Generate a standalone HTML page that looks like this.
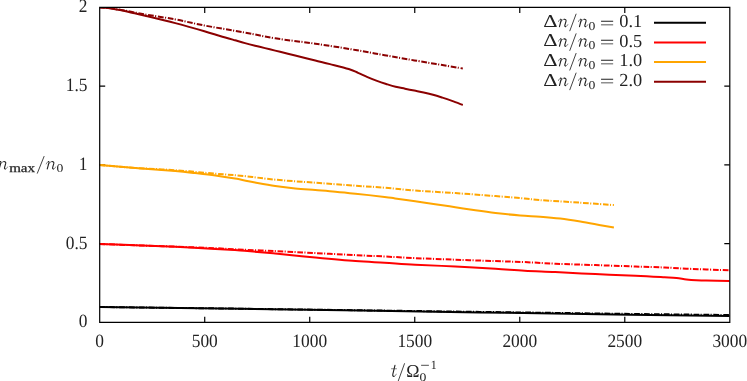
<!DOCTYPE html>
<html><head><meta charset="utf-8"><title>plot</title>
<style>
html,body{margin:0;padding:0;background:#fff;}
svg{display:block;will-change:transform;}
text{font-family:"Liberation Serif",serif;fill:#222;text-rendering:geometricPrecision;}
.i{font-style:italic;}
</style></head><body>
<svg width="747" height="381" viewBox="0 0 747 381">
<rect width="747" height="381" fill="#fff"/>
<path d="M204.72,322.3v-5.5M204.72,7.4v5.5M309.73,322.3v-5.5M309.73,7.4v5.5M414.75,322.3v-5.5M414.75,7.4v5.5M519.77,322.3v-5.5M519.77,7.4v5.5M624.78,322.3v-5.5M624.78,7.4v5.5M99.7,243.57h5.5M729.8,243.57h-5.5M99.7,164.85h5.5M729.8,164.85h-5.5M99.7,86.12h5.5M729.8,86.12h-5.5" fill="none" stroke="#000" stroke-width="1.2" stroke-linejoin="miter"/>
<clipPath id="pa"><rect x="99.7" y="7.4" width="630.0999999999999" height="314.90000000000003"/></clipPath>
<g clip-path="url(#pa)">
<path d="M99.50,306.99C122.92,307.29 176.58,307.90 240.00,308.80C303.42,309.70 415.00,311.42 480.00,312.40C545.00,313.38 588.42,314.10 630.00,314.70C671.58,315.30 712.92,315.78 729.50,316.00" fill="none" stroke="#000" stroke-width="2.0" stroke-linejoin="round"/>
<path d="M99.50,306.99C122.92,307.27 176.58,307.88 240.00,308.70C303.42,309.52 415.00,311.03 480.00,311.90C545.00,312.77 588.42,313.38 630.00,313.90C671.58,314.42 712.92,314.82 729.50,315.00" fill="none" stroke="#000" stroke-width="2.0" stroke-linejoin="round" stroke-dasharray="5.7 1.4 1.1 1.7"/>
<path d="M99.50,243.98C105.45,244.20 122.57,244.83 135.20,245.30C147.83,245.77 161.92,246.18 175.30,246.80C188.68,247.42 205.55,248.45 215.50,249.00C225.45,249.55 230.15,249.80 235.00,250.10C239.85,250.40 237.90,250.23 244.60,250.80C251.30,251.37 263.42,252.38 275.20,253.50C286.98,254.62 301.92,256.23 315.30,257.50C328.68,258.77 343.95,260.22 355.50,261.10C367.05,261.98 374.65,262.20 384.60,262.80C394.55,263.40 403.42,264.08 415.20,264.70C426.98,265.32 441.92,265.82 455.30,266.50C468.68,267.18 483.95,268.08 495.50,268.80C507.05,269.52 514.65,270.25 524.60,270.80C534.55,271.35 543.42,271.55 555.20,272.10C566.98,272.65 581.92,273.50 595.30,274.10C608.68,274.70 623.95,275.17 635.50,275.70C647.05,276.23 657.77,276.90 664.60,277.30C671.43,277.70 672.87,277.73 676.50,278.10C680.13,278.47 683.12,279.13 686.40,279.50C689.68,279.87 692.93,280.13 696.20,280.30C699.47,280.47 700.45,280.40 706.00,280.50C711.55,280.60 725.58,280.83 729.50,280.90" fill="none" stroke="#ff0000" stroke-width="2.0" stroke-linejoin="round"/>
<path d="M99.50,243.98C105.45,244.20 122.57,244.86 135.20,245.30C147.83,245.75 161.92,246.17 175.30,246.65C188.68,247.13 205.55,247.76 215.50,248.20C225.45,248.64 225.05,248.82 235.00,249.30C244.95,249.78 261.82,250.47 275.20,251.10C288.58,251.73 301.92,252.43 315.30,253.10C328.68,253.77 343.95,254.53 355.50,255.10C367.05,255.67 374.65,256.00 384.60,256.50C394.55,257.00 403.42,257.57 415.20,258.10C426.98,258.63 441.92,259.20 455.30,259.70C468.68,260.20 483.95,260.70 495.50,261.10C507.05,261.50 514.65,261.67 524.60,262.10C534.55,262.53 543.42,263.20 555.20,263.70C566.98,264.20 581.92,264.63 595.30,265.10C608.68,265.57 623.95,266.10 635.50,266.50C647.05,266.90 656.12,267.13 664.60,267.50C673.08,267.87 675.58,268.23 686.40,268.70C697.22,269.17 722.32,270.03 729.50,270.30" fill="none" stroke="#ff0000" stroke-width="2.0" stroke-linejoin="round" stroke-dasharray="5.7 1.4 1.1 1.7"/>
<path d="M99.50,165.05C105.45,165.53 122.57,166.89 135.20,167.90C147.83,168.91 165.33,170.23 175.30,171.10C185.27,171.97 188.30,172.37 195.00,173.10C201.70,173.83 208.83,174.58 215.50,175.50C222.17,176.42 228.40,177.43 235.00,178.60C241.60,179.77 248.40,181.27 255.10,182.50C261.80,183.73 268.52,185.00 275.20,186.00C281.88,187.00 288.52,187.82 295.20,188.50C301.88,189.18 308.60,189.57 315.30,190.10C322.00,190.63 328.70,191.10 335.40,191.70C342.10,192.30 347.30,192.83 355.50,193.70C363.70,194.57 378.00,196.12 384.60,196.90C391.20,197.68 390.00,197.67 395.10,198.40C400.20,199.13 408.52,200.33 415.20,201.30C421.88,202.27 428.52,203.22 435.20,204.20C441.88,205.18 448.60,206.18 455.30,207.20C462.00,208.22 468.70,209.33 475.40,210.30C482.10,211.27 488.05,212.13 495.50,213.00C502.95,213.87 512.65,214.88 520.10,215.50C527.55,216.12 533.52,216.18 540.20,216.70C546.88,217.22 553.52,217.78 560.20,218.60C566.88,219.42 573.60,220.50 580.30,221.60C587.00,222.70 594.80,224.20 600.40,225.20C606.00,226.20 611.65,227.20 613.90,227.60" fill="none" stroke="#ffa500" stroke-width="2.0" stroke-linejoin="round"/>
<path d="M99.50,165.05C105.45,165.53 122.57,167.04 135.20,167.90C147.83,168.76 161.92,169.23 175.30,170.20C188.68,171.17 203.95,172.72 215.50,173.70C227.05,174.68 234.65,175.10 244.60,176.10C254.55,177.10 263.42,178.60 275.20,179.70C286.98,180.80 301.92,181.70 315.30,182.70C328.68,183.70 343.95,184.87 355.50,185.70C367.05,186.53 374.65,186.90 384.60,187.70C394.55,188.50 403.42,189.60 415.20,190.50C426.98,191.40 441.92,192.17 455.30,193.10C468.68,194.03 483.95,195.20 495.50,196.10C507.05,197.00 517.15,197.83 524.60,198.50C532.05,199.17 530.92,199.40 540.20,200.10C549.48,200.80 568.02,201.87 580.30,202.70C592.58,203.53 608.30,204.70 613.90,205.10" fill="none" stroke="#ffa500" stroke-width="2.0" stroke-linejoin="round" stroke-dasharray="5.7 1.4 1.1 1.7"/>
<path d="M99.30,7.30C100.75,7.42 104.55,7.53 108.00,8.00C111.45,8.47 116.00,9.32 120.00,10.10C124.00,10.88 127.80,11.77 132.00,12.70C136.20,13.63 137.98,13.97 145.20,15.70C152.42,17.43 165.43,20.52 175.30,23.10C185.17,25.68 196.95,29.05 204.40,31.20C211.85,33.35 214.90,34.48 220.00,36.00C225.10,37.52 230.83,39.12 235.00,40.30C239.17,41.48 241.65,42.20 245.00,43.10C248.35,44.00 251.77,44.87 255.10,45.70C258.43,46.53 261.65,47.28 265.00,48.10C268.35,48.92 271.87,49.78 275.20,50.60C278.53,51.42 281.67,52.18 285.00,53.00C288.33,53.82 290.15,54.25 295.20,55.50C300.25,56.75 309.50,59.07 315.30,60.50C321.10,61.93 324.43,62.68 330.00,64.10C335.57,65.52 344.03,67.55 348.70,69.00C353.37,70.45 354.87,71.45 358.00,72.80C361.13,74.15 364.33,75.75 367.50,77.10C370.67,78.45 373.88,79.75 377.00,80.90C380.12,82.05 383.10,83.02 386.20,84.00C389.30,84.98 392.47,86.02 395.60,86.80C398.73,87.58 401.88,88.07 405.00,88.70C408.12,89.33 411.18,89.97 414.30,90.60C417.42,91.23 420.58,91.82 423.70,92.50C426.82,93.18 429.88,93.85 433.00,94.70C436.12,95.55 439.23,96.57 442.40,97.60C445.57,98.63 448.60,99.67 452.00,100.90C455.40,102.13 461.00,104.32 462.80,105.00" fill="none" stroke="#8b0000" stroke-width="2.0" stroke-linejoin="round"/>
<path d="M99.30,7.30C100.75,7.42 103.72,7.45 108.00,8.00C112.28,8.55 118.83,9.53 125.00,10.60C131.17,11.67 136.62,12.93 145.00,14.40C153.38,15.87 165.40,17.55 175.30,19.40C185.20,21.25 192.85,23.32 204.40,25.50C215.95,27.68 232.80,30.37 244.60,32.50C256.40,34.63 263.42,36.43 275.20,38.30C286.98,40.17 301.92,41.75 315.30,43.70C328.68,45.65 343.95,48.08 355.50,50.00C367.05,51.92 374.78,53.47 384.60,55.20C394.42,56.93 401.37,58.18 414.40,60.40C427.43,62.62 454.73,67.15 462.80,68.50" fill="none" stroke="#8b0000" stroke-width="2.0" stroke-linejoin="round" stroke-dasharray="5.7 1.4 1.1 1.7"/>
</g>
<path d="M99.7,7.4H729.8V322.3H99.7Z" fill="none" stroke="#000" stroke-width="1.2" stroke-linejoin="miter"/>
<text transform="translate(99.70,346.90) scale(0.965,1.045)" font-size="18" text-anchor="middle">0</text>
<text transform="translate(204.72,346.90) scale(0.965,1.045)" font-size="18" text-anchor="middle">500</text>
<text transform="translate(309.73,346.90) scale(0.965,1.045)" font-size="18" text-anchor="middle">1000</text>
<text transform="translate(414.75,346.90) scale(0.965,1.045)" font-size="18" text-anchor="middle">1500</text>
<text transform="translate(519.77,346.90) scale(0.965,1.045)" font-size="18" text-anchor="middle">2000</text>
<text transform="translate(624.78,346.90) scale(0.965,1.045)" font-size="18" text-anchor="middle">2500</text>
<text transform="translate(729.80,346.90) scale(0.965,1.045)" font-size="18" text-anchor="middle">3000</text>
<text transform="translate(87.50,327.30) scale(0.965,1.045)" font-size="18" text-anchor="end">0</text>
<text transform="translate(87.50,248.57) scale(0.965,1.045)" font-size="18" text-anchor="end">0.5</text>
<text transform="translate(87.50,169.85) scale(0.965,1.045)" font-size="18" text-anchor="end">1</text>
<text transform="translate(87.50,91.12) scale(0.965,1.045)" font-size="18" text-anchor="end">1.5</text>
<text transform="translate(87.50,12.40) scale(0.965,1.045)" font-size="18" text-anchor="end">2</text>
<g><text transform="translate(543.15,26.75) scale(1.234,1.001)" font-size="18.0">&#916;</text><path d="M558.45,21.58 C559.01,20.06 559.83,19.20 560.65,19.20" fill="none" stroke="#222" stroke-width="0.55" stroke-linecap="round"/><path d="M560.29,22.39 C561.36,20.37 562.89,19.20 564.22,19.20" fill="none" stroke="#222" stroke-width="0.55" stroke-linecap="round"/><path d="M565.55,26.65 C566.47,26.65 567.28,25.84 567.84,24.62" fill="none" stroke="#222" stroke-width="0.55" stroke-linecap="round"/><path d="M560.65,19.20 C561.26,19.20 561.36,19.66 561.21,20.27 L559.47,26.60" fill="none" stroke="#222" stroke-width="1.12" stroke-linecap="round" stroke-linejoin="round"/><path d="M564.22,19.20 C565.75,19.20 566.26,20.06 565.96,21.28 L564.88,25.03 C564.58,26.14 564.94,26.65 565.55,26.65" fill="none" stroke="#222" stroke-width="1.12" stroke-linecap="round" stroke-linejoin="round"/><line x1="569.70" y1="31.15" x2="576.20" y2="13.75" stroke="#222" stroke-width="0.85"/><path d="M578.45,21.58 C579.01,20.06 579.83,19.20 580.65,19.20" fill="none" stroke="#222" stroke-width="0.55" stroke-linecap="round"/><path d="M580.29,22.39 C581.36,20.37 582.89,19.20 584.22,19.20" fill="none" stroke="#222" stroke-width="0.55" stroke-linecap="round"/><path d="M585.55,26.65 C586.47,26.65 587.28,25.84 587.84,24.62" fill="none" stroke="#222" stroke-width="0.55" stroke-linecap="round"/><path d="M580.65,19.20 C581.26,19.20 581.36,19.66 581.21,20.27 L579.47,26.60" fill="none" stroke="#222" stroke-width="1.12" stroke-linecap="round" stroke-linejoin="round"/><path d="M584.22,19.20 C585.75,19.20 586.26,20.06 585.96,21.28 L584.88,25.03 C584.58,26.14 584.94,26.65 585.55,26.65" fill="none" stroke="#222" stroke-width="1.12" stroke-linecap="round" stroke-linejoin="round"/><text transform="translate(588.58,29.63) scale(0.760,0.675)" font-size="18.0">0</text><text transform="translate(599.80,28.53) scale(1.445,1.000)" font-size="18.0">=</text><text transform="translate(619.30,27.10) scale(1.02,1.02)" font-size="18" text-anchor="start">0.1</text>
<line x1="654" y1="22.80" x2="706" y2="22.80" stroke="#000" stroke-width="2.0"/></g>
<g><text transform="translate(543.15,46.40) scale(1.234,1.001)" font-size="18.0">&#916;</text><path d="M558.45,41.23 C559.01,39.71 559.83,38.85 560.65,38.85" fill="none" stroke="#222" stroke-width="0.55" stroke-linecap="round"/><path d="M560.29,42.04 C561.36,40.02 562.89,38.85 564.22,38.85" fill="none" stroke="#222" stroke-width="0.55" stroke-linecap="round"/><path d="M565.55,46.30 C566.47,46.30 567.28,45.49 567.84,44.27" fill="none" stroke="#222" stroke-width="0.55" stroke-linecap="round"/><path d="M560.65,38.85 C561.26,38.85 561.36,39.31 561.21,39.92 L559.47,46.25" fill="none" stroke="#222" stroke-width="1.12" stroke-linecap="round" stroke-linejoin="round"/><path d="M564.22,38.85 C565.75,38.85 566.26,39.71 565.96,40.93 L564.88,44.68 C564.58,45.79 564.94,46.30 565.55,46.30" fill="none" stroke="#222" stroke-width="1.12" stroke-linecap="round" stroke-linejoin="round"/><line x1="569.70" y1="50.80" x2="576.20" y2="33.40" stroke="#222" stroke-width="0.85"/><path d="M578.45,41.23 C579.01,39.71 579.83,38.85 580.65,38.85" fill="none" stroke="#222" stroke-width="0.55" stroke-linecap="round"/><path d="M580.29,42.04 C581.36,40.02 582.89,38.85 584.22,38.85" fill="none" stroke="#222" stroke-width="0.55" stroke-linecap="round"/><path d="M585.55,46.30 C586.47,46.30 587.28,45.49 587.84,44.27" fill="none" stroke="#222" stroke-width="0.55" stroke-linecap="round"/><path d="M580.65,38.85 C581.26,38.85 581.36,39.31 581.21,39.92 L579.47,46.25" fill="none" stroke="#222" stroke-width="1.12" stroke-linecap="round" stroke-linejoin="round"/><path d="M584.22,38.85 C585.75,38.85 586.26,39.71 585.96,40.93 L584.88,44.68 C584.58,45.79 584.94,46.30 585.55,46.30" fill="none" stroke="#222" stroke-width="1.12" stroke-linecap="round" stroke-linejoin="round"/><text transform="translate(588.58,49.28) scale(0.760,0.675)" font-size="18.0">0</text><text transform="translate(599.80,48.18) scale(1.445,1.000)" font-size="18.0">=</text><text transform="translate(619.30,46.75) scale(1.02,1.02)" font-size="18" text-anchor="start">0.5</text>
<line x1="654" y1="42.45" x2="706" y2="42.45" stroke="#ff0000" stroke-width="2.0"/></g>
<g><text transform="translate(543.15,66.05) scale(1.234,1.001)" font-size="18.0">&#916;</text><path d="M558.45,60.88 C559.01,59.36 559.83,58.50 560.65,58.50" fill="none" stroke="#222" stroke-width="0.55" stroke-linecap="round"/><path d="M560.29,61.69 C561.36,59.67 562.89,58.50 564.22,58.50" fill="none" stroke="#222" stroke-width="0.55" stroke-linecap="round"/><path d="M565.55,65.95 C566.47,65.95 567.28,65.14 567.84,63.92" fill="none" stroke="#222" stroke-width="0.55" stroke-linecap="round"/><path d="M560.65,58.50 C561.26,58.50 561.36,58.96 561.21,59.57 L559.47,65.90" fill="none" stroke="#222" stroke-width="1.12" stroke-linecap="round" stroke-linejoin="round"/><path d="M564.22,58.50 C565.75,58.50 566.26,59.36 565.96,60.58 L564.88,64.33 C564.58,65.44 564.94,65.95 565.55,65.95" fill="none" stroke="#222" stroke-width="1.12" stroke-linecap="round" stroke-linejoin="round"/><line x1="569.70" y1="70.45" x2="576.20" y2="53.05" stroke="#222" stroke-width="0.85"/><path d="M578.45,60.88 C579.01,59.36 579.83,58.50 580.65,58.50" fill="none" stroke="#222" stroke-width="0.55" stroke-linecap="round"/><path d="M580.29,61.69 C581.36,59.67 582.89,58.50 584.22,58.50" fill="none" stroke="#222" stroke-width="0.55" stroke-linecap="round"/><path d="M585.55,65.95 C586.47,65.95 587.28,65.14 587.84,63.92" fill="none" stroke="#222" stroke-width="0.55" stroke-linecap="round"/><path d="M580.65,58.50 C581.26,58.50 581.36,58.96 581.21,59.57 L579.47,65.90" fill="none" stroke="#222" stroke-width="1.12" stroke-linecap="round" stroke-linejoin="round"/><path d="M584.22,58.50 C585.75,58.50 586.26,59.36 585.96,60.58 L584.88,64.33 C584.58,65.44 584.94,65.95 585.55,65.95" fill="none" stroke="#222" stroke-width="1.12" stroke-linecap="round" stroke-linejoin="round"/><text transform="translate(588.58,68.93) scale(0.760,0.675)" font-size="18.0">0</text><text transform="translate(599.80,67.83) scale(1.445,1.000)" font-size="18.0">=</text><text transform="translate(619.30,66.40) scale(1.02,1.02)" font-size="18" text-anchor="start">1.0</text>
<line x1="654" y1="62.10" x2="706" y2="62.10" stroke="#ffa500" stroke-width="2.0"/></g>
<g><text transform="translate(543.15,85.70) scale(1.234,1.001)" font-size="18.0">&#916;</text><path d="M558.45,80.53 C559.01,79.01 559.83,78.15 560.65,78.15" fill="none" stroke="#222" stroke-width="0.55" stroke-linecap="round"/><path d="M560.29,81.34 C561.36,79.32 562.89,78.15 564.22,78.15" fill="none" stroke="#222" stroke-width="0.55" stroke-linecap="round"/><path d="M565.55,85.60 C566.47,85.60 567.28,84.79 567.84,83.57" fill="none" stroke="#222" stroke-width="0.55" stroke-linecap="round"/><path d="M560.65,78.15 C561.26,78.15 561.36,78.61 561.21,79.22 L559.47,85.55" fill="none" stroke="#222" stroke-width="1.12" stroke-linecap="round" stroke-linejoin="round"/><path d="M564.22,78.15 C565.75,78.15 566.26,79.01 565.96,80.23 L564.88,83.98 C564.58,85.09 564.94,85.60 565.55,85.60" fill="none" stroke="#222" stroke-width="1.12" stroke-linecap="round" stroke-linejoin="round"/><line x1="569.70" y1="90.10" x2="576.20" y2="72.70" stroke="#222" stroke-width="0.85"/><path d="M578.45,80.53 C579.01,79.01 579.83,78.15 580.65,78.15" fill="none" stroke="#222" stroke-width="0.55" stroke-linecap="round"/><path d="M580.29,81.34 C581.36,79.32 582.89,78.15 584.22,78.15" fill="none" stroke="#222" stroke-width="0.55" stroke-linecap="round"/><path d="M585.55,85.60 C586.47,85.60 587.28,84.79 587.84,83.57" fill="none" stroke="#222" stroke-width="0.55" stroke-linecap="round"/><path d="M580.65,78.15 C581.26,78.15 581.36,78.61 581.21,79.22 L579.47,85.55" fill="none" stroke="#222" stroke-width="1.12" stroke-linecap="round" stroke-linejoin="round"/><path d="M584.22,78.15 C585.75,78.15 586.26,79.01 585.96,80.23 L584.88,83.98 C584.58,85.09 584.94,85.60 585.55,85.60" fill="none" stroke="#222" stroke-width="1.12" stroke-linecap="round" stroke-linejoin="round"/><text transform="translate(588.58,88.58) scale(0.760,0.675)" font-size="18.0">0</text><text transform="translate(599.80,87.48) scale(1.445,1.000)" font-size="18.0">=</text><text transform="translate(619.30,86.05) scale(1.02,1.02)" font-size="18" text-anchor="start">2.0</text>
<line x1="654" y1="81.75" x2="706" y2="81.75" stroke="#8b0000" stroke-width="2.0"/></g>
<g><path d="M-1.85,163.93 C-1.29,162.41 -0.47,161.55 0.35,161.55" fill="none" stroke="#222" stroke-width="0.55" stroke-linecap="round"/><path d="M-0.01,164.74 C1.06,162.72 2.59,161.55 3.92,161.55" fill="none" stroke="#222" stroke-width="0.55" stroke-linecap="round"/><path d="M5.25,169.00 C6.17,169.00 6.98,168.19 7.54,166.97" fill="none" stroke="#222" stroke-width="0.55" stroke-linecap="round"/><path d="M0.35,161.55 C0.96,161.55 1.06,162.01 0.91,162.62 L-0.83,168.95" fill="none" stroke="#222" stroke-width="1.12" stroke-linecap="round" stroke-linejoin="round"/><path d="M3.92,161.55 C5.45,161.55 5.96,162.41 5.66,163.63 L4.58,167.38 C4.28,168.49 4.64,169.00 5.25,169.00" fill="none" stroke="#222" stroke-width="1.12" stroke-linecap="round" stroke-linejoin="round"/><text transform="translate(9.2,171.65) scale(1.22,1)" font-size="12.3" stroke="#222" stroke-width="0.25">max</text><line x1="37.20" y1="173.60" x2="44.20" y2="156.10" stroke="#222" stroke-width="0.85"/><path d="M46.25,163.93 C46.81,162.41 47.63,161.55 48.45,161.55" fill="none" stroke="#222" stroke-width="0.55" stroke-linecap="round"/><path d="M48.09,164.74 C49.16,162.72 50.69,161.55 52.02,161.55" fill="none" stroke="#222" stroke-width="0.55" stroke-linecap="round"/><path d="M53.35,169.00 C54.27,169.00 55.08,168.19 55.64,166.97" fill="none" stroke="#222" stroke-width="0.55" stroke-linecap="round"/><path d="M48.45,161.55 C49.06,161.55 49.16,162.01 49.01,162.62 L47.27,168.95" fill="none" stroke="#222" stroke-width="1.12" stroke-linecap="round" stroke-linejoin="round"/><path d="M52.02,161.55 C53.55,161.55 54.06,162.41 53.76,163.63 L52.68,167.38 C52.38,168.49 52.74,169.00 53.35,169.00" fill="none" stroke="#222" stroke-width="1.12" stroke-linecap="round" stroke-linejoin="round"/><text transform="translate(56.58,171.98) scale(0.760,0.659)" font-size="18.0">0</text></g>
<g><path d="M391.50,368.75 L396.50,368.75" fill="none" stroke="#222" stroke-width="0.55" stroke-linecap="round"/><path d="M393.90,376.40 C394.90,376.40 395.70,375.50 396.20,374.20" fill="none" stroke="#222" stroke-width="0.55" stroke-linecap="round"/><path d="M394.95,365.30 L392.85,374.20 C392.50,375.70 393.00,376.40 393.90,376.40" fill="none" stroke="#222" stroke-width="1.12" stroke-linecap="round" stroke-linejoin="round"/><line x1="398.20" y1="381.10" x2="404.60" y2="363.30" stroke="#222" stroke-width="0.85"/><text transform="translate(406.28,376.50) scale(0.990,1.007)" font-size="18.0">&#937;</text><text transform="translate(419.48,380.99) scale(0.760,0.650)" font-size="18.0">0</text><line x1="421.1" y1="365.3" x2="428.9" y2="365.3" stroke="#222" stroke-width="0.8"/><text transform="translate(430.75,368.70) scale(0.663,0.698)" font-size="18.0">1</text></g>
</svg>
</body></html>
